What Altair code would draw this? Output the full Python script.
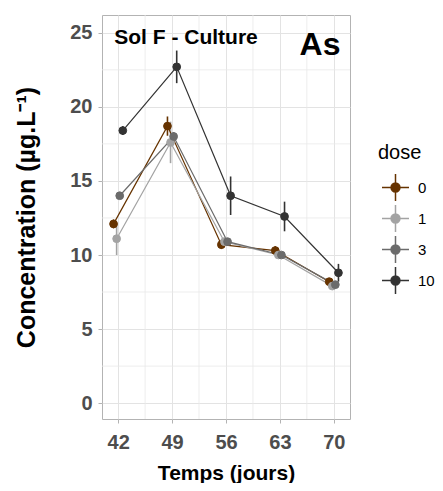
import altair as alt
import pandas as pd

days = [42, 49, 56, 63, 70]
doses = ["0", "1", "3", "10"]
conc_0 = [12.1, 18.7, 10.7, 10.3, 8.2]
se_0 = [0.3, 0.65, 0.3, 0.3, 0.2]
conc_1 = [11.1, 17.6, 10.9, 10.0, 7.9]
se_1 = [1.1, 1.4, 0.3, 0.2, 0.2]
conc_3 = [14.0, 18.0, 10.9, 10.0, 8.0]
se_3 = [0.2, 0.3, 0.2, 0.2, 0.2]
conc_10 = [18.4, 22.7, 14.0, 12.6, 8.8]
se_10 = [0.3, 1.1, 1.3, 1.0, 0.6]
colors = ["#663300", "#A3A3A3", "#6B6B6B", "#333333"]
y_ticks = [0, 5, 10, 15, 20, 25]
x_minor = [45.5, 52.5, 59.5, 66.5]
y_minor = [2.5, 7.5, 12.5, 17.5, 22.5]

means = [conc_0, conc_1, conc_3, conc_10]
ses = [se_0, se_1, se_3, se_10]
rows = []
for d, m, s in zip(doses, means, ses):
    for day, mm, ss in zip(days, m, s):
        rows.append(dict(dose=d, jour=day, conc=mm, lo=mm - ss, hi=mm + ss))
df = pd.DataFrame(rows)

FONT = "Liberation Sans"
xs = alt.Scale(domain=[39.9, 72.1], nice=False, zero=False)
ys = alt.Scale(domain=[-1.07, 26.2], nice=False, zero=False)
cs = alt.Scale(domain=doses, range=colors)

XT = "Temps (jours)"
YT = "Concentration (µg.L⁻¹)"

x_axis = alt.Axis(values=days, labelPadding=9, titlePadding=10, grid=True)
y_axis = alt.Axis(values=y_ticks, labelPadding=6, titlePadding=30, grid=True)

sym = "M-1,0H1M0,-1V1M-0.33,0A0.33,0.33,0,1,1,0.33,0A0.33,0.33,0,1,1,-0.33,0Z"
leg = alt.Legend(
    title="dose", orient="none", legendX=276, legendY=128,
    symbolType=sym, symbolSize=729, symbolStrokeWidth=1.5, symbolOpacity=1,
    symbolOffset=3, clipHeight=27,
    titleFont=FONT, titleFontSize=20, titleFontWeight="normal", titleColor="black",
    labelFont=FONT, labelFontSize=15, labelColor="black", labelOffset=8,
    rowPadding=4, titlePadding=11, padding=0,
)

base = alt.Chart(df).transform_calculate(
    xd="datum.jour + (indexof(['0','1','3','10'], datum.dose) - 1.5) * 0.4"
)

x_main = alt.X("xd:Q", scale=xs, title=XT, axis=x_axis)
y_main = alt.Y("conc:Q", scale=ys, title=YT, axis=y_axis)

xg = alt.Chart(pd.DataFrame({"g": x_minor})).mark_rule(color="#E8E8E8", strokeWidth=0.8).encode(
    x=alt.X("g:Q", scale=xs, title=XT, axis=x_axis))
yg = alt.Chart(pd.DataFrame({"g": y_minor})).mark_rule(color="#E8E8E8", strokeWidth=0.8).encode(
    y=alt.Y("g:Q", scale=ys, title=YT, axis=y_axis))

err = base.mark_rule(strokeWidth=1.6).encode(
    x=x_main,
    y=alt.Y("lo:Q", scale=ys, title=YT, axis=y_axis),
    y2="hi:Q",
    stroke=alt.Stroke("dose:N", scale=cs, legend=leg, sort=doses),
)
lines = base.mark_line(strokeWidth=1.2).encode(
    x=x_main, y=y_main,
    stroke=alt.Stroke("dose:N", scale=cs, legend=leg, sort=doses),
    order="jour:Q",
)
pts = base.mark_point(filled=True, size=60, strokeWidth=1, opacity=1).encode(
    x=x_main, y=y_main,
    fill=alt.Fill("dose:N", scale=cs, legend=leg, sort=doses),
    stroke=alt.Stroke("dose:N", scale=cs, legend=leg, sort=doses),
)

t1 = alt.Chart(pd.DataFrame({"t": ["Sol F - Culture"]})).mark_text(
    font=FONT, fontSize=21, fontWeight="bold", color="black", align="center", baseline="middle"
).encode(x=alt.value(84), y=alt.value(23), text="t:N")
t2 = alt.Chart(pd.DataFrame({"t": ["As"]})).mark_text(
    font=FONT, fontSize=32, fontWeight="bold", color="black", align="center", baseline="middle"
).encode(x=alt.value(218), y=alt.value(30), text="t:N")

chart = alt.layer(xg, yg, err, lines, pts, t1, t2).properties(
    width=248, height=404,
    autosize=alt.AutoSizeParams(type="none"),
    padding={"left": 94, "top": 7, "right": 85, "bottom": 64},
).configure_axis(
    labelFont=FONT, labelFontWeight="bold", labelFontSize=20, labelColor="#4D4D4D",
    titleFont=FONT, titleFontWeight="bold", titleColor="black",
    tickColor="#B3B3B3", tickSize=4, domain=False,
    gridColor="#E3E3E3", gridWidth=1,
).configure_axisX(titleFontSize=21).configure_axisY(titleFontSize=25).configure_view(
    stroke="#B3B3B3", strokeWidth=1
)

chart.save("out.html", embed_options={"renderer": "svg", "actions": False})
